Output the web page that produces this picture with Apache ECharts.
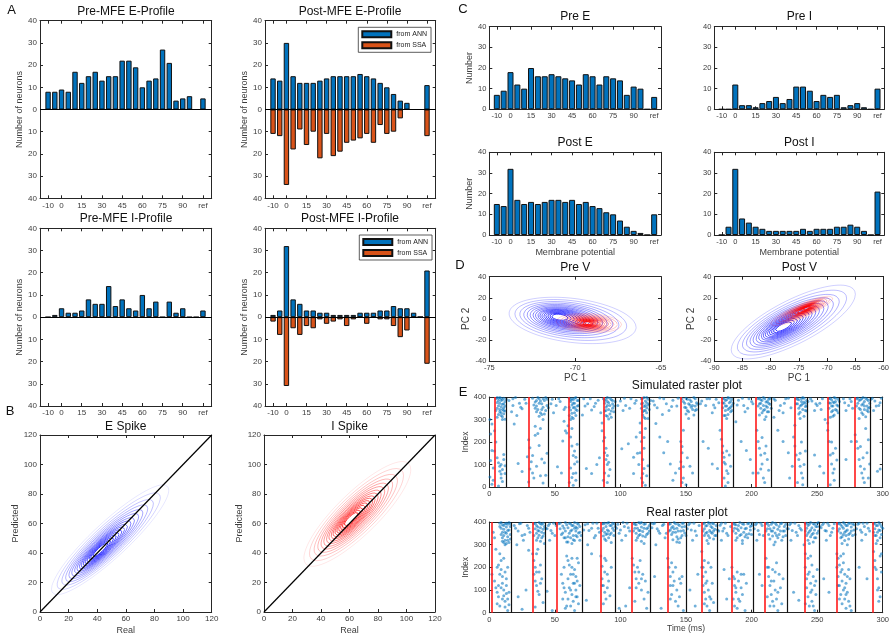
<!DOCTYPE html>
<html><head><meta charset="utf-8">
<script src="https://cdn.jsdelivr.net/npm/echarts@6/dist/echarts.min.js"></script>
<style>html,body{margin:0;padding:0;background:#fff}#c{width:892px;height:636px}</style>
</head><body><div id="c"></div>
<script>
// ---------------- DATA ----------------
const binCenters = [-10,-5,0,5,10,15,20,25,30,35,40,45,50,55,60,65,70,75,80,85,90,95,100,105];
const binTickValues = [-10,0,15,30,45,60,75,90,105];
const binTickLabels = {'-10':'-10','0':'0','15':'15','30':'30','45':'45','60':'60','75':'75','90':'90','105':'ref'};

// Panel A
const preMfeE     = [8,8,9,8,17,12,15,17,13,15,15,22,22,19,10,13,14,27,21,4,5,6,0,5];
const postMfeE_ANN= [14,13,30,15,12,12,12,13,14,15,15,15,15,16,15,14,12,10,7,4,3,0,0,11];
const postMfeE_SSA= [11,12,34,18,9,16,10,22,11,21,19,15,14,13,11,15,7,11,10,4,0,0,0,12];
const preMfeI     = [0,1,4,2,2,3,8,6,6,14,5,8,4,3,10,4,7,0,7,2,4,0,0,3];
const postMfeI_ANN= [1,3,32,8,6,3,3,2,2,1,1,1,1,2,2,2,3,3,5,4,4,2,0,21];
const postMfeI_SSA= [2,8,31,5,8,4,5,1,3,2,1,4,1,0,3,0,1,1,4,9,6,0,0,21];

// Panel C
const preE  = [7,9,18,12,10,20,16,16,17,16,15,14,12,17,16,12,16,15,14,7,11,10,0,6];
const preI  = [0,0,12,2,2,1,3,4,6,3,5,11,11,9,4,7,6,7,1,2,3,1,0,10];
const postE = [15,14,32,17,15,16,15,16,17,17,16,17,15,16,14,13,11,10,7,4,2,1,0,10];
const postI = [0,4,32,8,6,4,3,2,2,2,2,2,3,2,3,3,3,4,4,5,4,2,0,21];

// Panel B diagonal (identity line end points)
const identityLine = [[0,0],[120,120]];

// Contour families: [centerX, centerY, halfWidthX, halfHeightY, slope, innerShiftX, innerShiftY]
const eSpikeContour = [49, 49, 41, 16, 0.82, -8, -8];
const iSpikeContour = [65.5, 66.5, 37.5, 19, 0.8, -5, -4];
const preVBlue  = [-70.15, -1.5, 3.7, 21, -1.78, -0.85, 3.5];
const preVRed   = [-69.2, -4, 1.9, 9, -0.8, -0.1, 0];
const postVBlue = [-76, -3, 11, 23, 2.4, -2, -5];
const postVRed  = [-74.5, 7.5, 5.5, 7, 2.2, 0.8, 2.5];
const contourLevels = [1,0.88,0.78,0.7,0.63,0.57,0.51,0.46,0.41,0.37,0.33,0.29,0.25,0.21,0.17,0.13];

// Panel E: event lines (ms)
const simRed   = [4.3,29.9,60.8,87.3,116,146.3,177.2,203.5,232.9,257.9,278.4];
const simBlack = [13.2,45.1,68.9,95.9,122.3,159.2,186,214.9,242.7,267,290.8];
const realRed   = [2,32.9,51.7,84.8,108.9,136.2,161.8,184.8,210.1,240.5,265,292.1];
const realBlack = [17,42.8,70.6,96.4,122.8,150.4,173.9,201.2,227,251.9,278.9];

const simRaster = [
[5,392],[6,376],[7,361],[8,398],[8,345],[9,330],[9,384],[10,368],[10,312],[11,352],[11,395],[12,338],[12,301],[7,322],[6,350],[9,357],[10,388],[11,326],[8,372],[12,380],[5,340],[7,395],[10,345],[11,370],
[6,310],[7,385],[8,335],[9,395],[10,300],[11,340],[12,360],[13,390],[6,398],[9,318],
[0.5,300],[1,236],[2,162],[1,118],[3,85],[0.5,45],[2,12],[6,130],[7,108],[8,92],[8,70],[9,58],[10,78],[9,40],[11,122],[10,25],[7,5],[5,200],[4,160],[12,95],
[2,280],[4,250],[3,30],[9,100],[11,145],[12,60],
[15,385],[18,362],[20,398],[23,372],[25,348],[27,390],[17,335],[21,318],[22,105],[25,69],[19,280],[18,392],[24,355],[28,372],
[33,395],[35,378],[36,360],[37,345],[38,392],[39,330],[40,370],[41,355],[42,385],[43,340],[44,362],[38,315],[41,300],[36,385],[43,398],[40,322],[35,350],
[34,365],[36,335],[37,398],[39,382],[40,345],[42,325],[44,390],[45,352],[38,372],[41,392],
[30,210],[31,175],[29,135],[32,112],[33,62],[30,22],[34,40],[36,92],[38,185],[40,125],[42,108],[43,52],[41,18],[37,238],[44,150],[35,270],[39,260],
[31,80],[33,140],[35,230],[39,50],
[48,390],[51,362],[54,380],[57,345],[49,330],[52,90],[55,62],[57,292],[58,250],[56,205],[47,370],[53,392],[58,355],
[61,395],[62,380],[62,342],[63,365],[63,310],[64,388],[64,352],[65,330],[65,372],[66,398],[66,318],[67,360],[67,340],[68,385],[62,300],[65,355],[63,392],
[61,355],[62,388],[63,328],[64,372],[65,395],[66,345],[67,385],[68,362],[61,318],[64,305],
[62,222],[63,182],[64,140],[65,102],[66,62],[63,42],[61,20],[64,8],[66,132],[67,112],[60,272],[59,240],[62,85],[65,160],
[63,260],[64,60],[66,30],[67,190],
[72,392],[75,370],[78,342],[80,358],[83,386],[74,82],[78,60],[82,100],[84,130],[71,320],[85,330],[73,360],[77,392],[81,372],
[87,392],[88,372],[88,338],[89,355],[89,318],[90,398],[90,380],[91,345],[92,362],[92,325],[93,388],[94,350],[94,370],[95,335],[91,302],[89,390],[93,310],
[88,385],[89,340],[90,362],[91,375],[92,395],[93,338],[94,385],[95,360],[96,380],[90,315],
[86,250],[87,205],[88,152],[89,122],[90,100],[88,62],[87,30],[90,20],[89,172],[91,110],[86,285],[92,78],
[88,220],[90,140],[91,50],
[100,382],[104,362],[108,392],[102,340],[111,372],[101,170],[106,192],[110,132],[112,222],[113,150],[114,100],[110,60],[115,285],[98,362],[103,395],[107,350],[112,385],
[116,392],[116,350],[117,372],[117,320],[118,398],[118,340],[119,362],[119,382],[120,330],[120,352],[121,390],[121,305],[122,370],[118,310],[120,375],
[116,370],[117,395],[118,358],[119,340],[120,398],[121,365],[122,345],[123,385],[117,335],[119,305],
[115,242],[116,202],[117,122],[118,82],[116,40],[117,20],[119,8],[115,152],[118,172],[120,50],[121,95],[119,260],
[117,60],[118,220],
[125,382],[130,396],[135,370],[140,386],[128,352],[137,340],[132,322],[143,360],[127,282],[130,222],[133,152],[138,102],[142,62],[136,202],[140,30],[126,365],[133,392],[139,358],[144,395],
[147,392],[149,372],[150,352],[151,390],[152,335],[153,365],[154,380],[155,345],[156,398],[156,320],[157,360],[158,375],[152,305],[154,355],[150,325],[157,340],
[148,380],[149,355],[150,395],[151,340],[152,370],[153,388],[155,362],[157,392],[158,345],[159,368],
[146,202],[147,152],[146,112],[145,82],[148,40],[147,20],[150,10],[153,92],[155,62],[148,252],[151,130],
[147,180],[148,90],
[162,382],[165,362],[168,392],[172,352],[170,330],[175,375],[163,202],[167,172],[170,102],[174,82],[161,370],[166,392],[171,365],[173,390],
[178,395],[178,352],[179,372],[180,340],[180,385],[181,360],[182,322],[182,398],[183,350],[183,375],[184,335],[185,362],[185,390],[181,305],[179,318],[184,380],
[178,375],[179,392],[180,360],[181,388],[182,345],[183,395],[184,355],[185,340],[186,372],[180,318],
[176,252],[177,212],[178,152],[179,132],[180,102],[181,72],[179,40],[182,20],[183,142],[184,92],[178,182],[180,5],
[179,110],[181,160],[182,60],
[190,386],[194,362],[198,392],[195,335],[201,370],[192,202],[196,162],[199,122],[201,62],[188,290],[189,365],[193,395],[197,350],[200,380],
[205,392],[206,370],[207,350],[207,388],[208,330],[209,362],[209,398],[210,345],[211,378],[211,312],[212,355],[213,390],[213,335],[214,368],[206,320],[210,300],[212,380],
[205,360],[206,395],[207,372],[208,385],[209,340],[210,392],[211,360],[212,335],[213,372],[214,395],[215,350],
[204,252],[205,202],[206,172],[207,142],[208,102],[205,62],[209,40],[210,20],[211,182],[212,122],[213,75],
[207,80],[208,220],[210,150],
[218,386],[222,362],[226,392],[230,352],[224,330],[220,252],[224,202],[228,152],[231,92],[229,40],[217,310],[217,392],[221,340],[225,372],[228,395],
[234,395],[235,370],[236,350],[236,388],[237,332],[238,365],[238,392],[239,345],[240,378],[240,315],[241,358],[242,385],[242,338],[237,305],[239,398],[241,372],
[234,370],[235,390],[236,325],[237,360],[238,380],[239,370],[240,395],[241,340],[242,360],[243,380],
[232,222],[233,182],[234,142],[236,122],[237,92],[238,62],[239,40],[235,20],[240,100],[241,160],[233,275],
[237,150],[238,200],[239,10],
[246,382],[250,362],[254,392],[248,340],[252,372],[248,142],[252,92],[255,62],[256,300],[245,392],[249,370],[253,345],
[259,392],[259,350],[260,372],[261,335],[261,388],[262,360],[263,398],[263,320],[264,345],[264,380],[265,365],[266,390],[266,330],[260,310],[262,378],
[259,375],[260,395],[261,360],[262,340],[263,375],[264,395],[265,340],[266,360],[267,380],[262,315],
[258,252],[259,202],[260,142],[261,102],[262,62],[263,30],[260,10],[264,172],[265,120],[258,285],
[261,200],[262,150],[263,80],
[270,392],[274,362],[272,340],[276,380],[272,122],[276,202],[271,375],[275,392],[277,350],
[280,392],[281,372],[282,350],[283,388],[284,330],[284,365],[285,398],[286,345],[286,380],[287,312],[288,360],[288,390],[289,335],[290,372],[282,305],[285,322],[289,350],
[280,360],[281,395],[282,385],[283,345],[284,392],[285,370],[286,360],[287,395],[288,340],[289,385],[290,355],[291,390],
[279,232],[280,202],[281,172],[282,122],[283,92],[284,62],[285,40],[286,20],[288,152],[290,102],[287,260],[289,210],
[283,180],[285,130],[286,80],[289,40],
[294,382],[297,362],[296,70],[298,80],[293,340],[299,395],[292,395],[295,360],[298,375]
];

const realRaster = [
[8,395],[9,372],[10,355],[10,388],[11,340],[11,368],[12,320],[12,392],[13,350],[13,378],[14,335],[14,362],[15,398],[15,310],[16,345],[16,380],[12,300],[10,330],[14,390],[9,345],
[8,380],[9,398],[10,315],[11,385],[12,355],[13,395],[14,320],[15,365],[16,392],[13,305],[11,310],[16,325],
[3,355],[4,330],[2,170],[4,140],[5,110],[6,90],[7,210],[8,260],[9,230],[9,190],[10,160],[10,130],[11,100],[11,75],[12,50],[12,25],[13,120],[13,85],[14,60],[14,10],[15,35],[8,170],[7,120],[11,240],[6,40],
[5,280],[6,200],[7,70],[8,30],[9,110],[10,60],[12,180],[13,150],[14,200],[15,90],
[19,385],[22,360],[24,395],[27,345],[30,372],[21,300],[26,320],[28,100],[22,70],[25,15],[30,275],[20,372],[23,392],[25,340],[29,385],[31,355],
[34,392],[35,370],[36,350],[36,385],[37,330],[37,362],[38,398],[38,342],[39,375],[39,315],[40,355],[40,390],[41,338],[41,368],[42,380],[42,305],
[34,340],[35,395],[36,320],[37,378],[38,360],[39,392],[40,330],[41,395],[42,350],[43,372],
[33,260],[34,230],[35,200],[34,170],[35,140],[36,120],[37,95],[36,260],[38,180],[39,210],[38,80],[40,150],[41,45],[35,25],
[36,180],[37,280],[39,130],
[45,385],[47,362],[49,395],[46,320],[50,340],[44,95],[48,10],[44,370],[46,392],[48,350],[51,385],
[53,392],[54,370],[55,345],[56,382],[57,330],[58,398],[58,360],[59,312],[60,375],[61,350],[62,392],[62,330],[63,365],[63,305],[64,385],[64,340],[65,398],[65,318],[66,360],[66,378],[67,335],[68,390],[69,355],[69,320],[60,335],[67,372],
[54,395],[56,352],[57,372],[59,388],[61,395],[62,360],[63,385],[64,322],[65,372],[66,340],[67,395],[68,352],[69,380],[70,340],[60,312],[58,330],
[55,170],[56,130],[57,200],[58,90],[59,250],[60,150],[60,60],[61,210],[61,110],[62,170],[62,30],[63,80],[63,240],[64,130],[64,50],[65,190],[65,10],[66,100],[66,160],[67,70],[67,140],[68,220],[68,40],[69,120],[58,20],
[56,60],[57,110],[59,30],[60,230],[62,100],[63,200],[64,170],[65,130],[66,70],[67,240],
[73,388],[76,362],[79,395],[81,340],[83,372],[75,300],[78,260],[80,330],[74,55],[72,365],[75,392],[78,372],[82,395],[84,355],
[86,392],[87,372],[87,338],[88,355],[88,395],[89,318],[89,380],[90,348],[90,365],[91,398],[91,330],[92,385],[93,352],[93,310],[94,372],[95,340],[95,392],
[86,362],[87,392],[88,325],[89,345],[90,395],[91,360],[92,345],[93,385],[94,395],[95,362],[96,380],
[85,250],[86,205],[86,150],[87,120],[88,90],[88,180],[89,60],[89,230],[90,110],[91,140],[92,75],[93,200],[87,40],
[86,120],[88,240],[90,170],
[98,390],[100,365],[102,398],[104,340],[106,375],[101,320],[99,20],[104,30],[107,110],[97,372],[99,350],[103,380],[105,395],[107,360],
[110,395],[111,372],[112,350],[112,388],[113,330],[114,362],[114,398],[115,345],[116,378],[116,315],[117,358],[118,390],[119,335],[120,370],[121,350],[122,385],[118,305],[115,395],
[110,360],[111,390],[112,320],[113,372],[114,340],[115,362],[116,398],[117,338],[118,372],[119,392],[120,345],[121,375],[122,360],[123,395],
[109,240],[110,210],[111,180],[112,150],[113,200],[114,130],[115,230],[116,100],[117,170],[118,60],[119,140],[120,20],[121,90],[111,50],
[112,110],[114,180],[116,150],
[125,392],[128,370],[130,350],[132,385],[134,330],[127,300],[131,20],[126,160],[124,375],[126,395],[129,360],[133,390],[135,350],
[137,390],[138,365],[139,345],[140,380],[140,322],[141,398],[142,355],[143,372],[143,335],[144,390],[145,310],[146,360],[147,378],[147,340],[148,395],[149,352],[144,325],[141,370],
[137,360],[138,392],[139,375],[140,355],[142,392],[143,312],[144,360],[145,385],[146,330],[147,395],[148,362],[149,380],[150,340],
[136,240],[137,200],[138,160],[138,120],[139,80],[140,180],[141,140],[142,50],[143,100],[144,30],[145,70],[146,130],[147,160],[148,10],[139,220],
[138,60],[140,120],[142,200],[145,150],
[152,388],[154,365],[156,395],[158,340],[155,320],[153,100],[157,30],[159,170],[151,370],[153,395],[157,360],[160,385],
[163,392],[164,370],[164,340],[165,382],[166,355],[166,318],[167,398],[168,362],[168,330],[169,380],[170,350],[171,392],[171,325],[172,368],[173,340],[167,305],[170,375],
[163,360],[164,395],[165,350],[166,385],[167,340],[168,392],[169,355],[170,395],[171,360],[172,340],[173,385],[174,365],
[162,270],[162,200],[163,160],[163,120],[164,90],[164,230],[165,60],[165,180],[166,140],[166,30],[167,100],[168,70],[168,10],[169,200],[170,130],[171,45],
[163,200],[164,40],[165,130],[167,220],[169,60],
[176,386],[178,360],[180,395],[182,340],[177,320],[179,190],[181,60],[183,150],[175,360],[177,395],[179,372],[181,350],[184,380],
[186,395],[187,372],[188,350],[188,388],[189,330],[190,362],[191,398],[191,340],[192,375],[193,318],[194,390],[194,355],[195,335],[196,372],[197,392],[198,348],[199,365],[200,385],[193,305],[189,370],
[186,360],[187,390],[188,320],[190,385],[192,345],[193,392],[195,370],[196,345],[197,330],[198,395],[199,380],[200,345],[201,395],
[185,200],[186,160],[186,60],[187,120],[187,30],[188,90],[189,180],[189,20],[190,140],[191,50],[192,110],[193,80],[194,170],[195,10],[196,130],
[187,150],[188,110],[190,60],[192,170],
[203,388],[205,362],[207,395],[209,340],[204,320],[206,170],[208,120],[202,370],[204,395],[206,345],[208,385],
[211,392],[212,370],[213,345],[213,385],[214,325],[215,360],[216,398],[216,338],[217,375],[218,312],[218,352],[219,388],[220,330],[220,368],[221,345],[222,392],[223,320],[224,360],[225,380],[226,340],[217,300],
[211,360],[212,395],[214,370],[215,390],[216,360],[218,395],[219,340],[221,380],[222,360],[223,395],[224,335],[225,360],[226,390],[227,370],
[211,240],[212,200],[213,160],[214,120],[214,30],[215,80],[216,190],[216,50],[217,140],[218,100],[219,60],[219,220],[220,10],[221,170],[222,110],[223,40],[224,150],[212,70],
[213,200],[215,140],[217,30],[218,180],[220,90],
[229,388],[231,362],[233,395],[235,340],[237,372],[230,320],[232,90],[236,55],[228,370],[230,395],[234,355],[236,385],[238,365],
[241,395],[242,372],[242,340],[243,385],[243,320],[244,358],[245,398],[245,335],[246,375],[247,350],[247,312],[248,390],[248,365],[249,330],[250,380],[250,350],[251,398],[244,305],
[241,360],[242,395],[243,350],[244,390],[245,365],[246,345],[247,392],[248,330],[249,380],[250,395],[251,360],[252,380],
[240,300],[241,260],[241,200],[242,150],[242,110],[243,240],[243,70],[244,180],[244,30],[245,130],[245,90],[246,210],[246,50],[247,160],[248,120],[248,10],[249,80],[250,190],[241,40],
[243,170],[245,250],[246,100],[247,30],[249,140],
[254,388],[256,362],[258,395],[260,340],[262,372],[257,320],[255,150],[259,90],[253,375],[255,395],[257,360],[259,385],[261,355],[263,392],
[266,392],[267,370],[268,352],[268,388],[269,335],[270,372],[270,398],[271,318],[271,355],[272,385],[272,340],[273,365],[274,395],[274,325],[275,350],[276,378],[277,340],[278,388],[269,305],[273,300],
[266,360],[267,395],[268,330],[269,380],[270,345],[271,392],[272,360],[273,385],[274,345],[275,395],[276,360],[277,392],[278,365],[279,345],
[265,260],[265,200],[266,240],[266,160],[267,210],[267,120],[268,180],[268,80],[269,140],[269,40],[270,220],[270,100],[271,60],[271,170],[272,20],[272,130],[273,90],[274,190],[274,50],[275,150],[276,10],[270,260],
[266,120],[267,60],[268,250],[269,190],[271,110],[272,80],[273,160],[275,30],
[281,390],[283,365],[285,395],[287,345],[289,372],[284,320],[282,200],[288,150],[280,370],[282,395],[284,355],[286,380],[288,395],[290,360],
[293,392],[294,370],[294,340],[295,385],[296,355],[296,318],[297,398],[298,362],[298,330],[299,380],[295,305],
[293,355],[294,395],[295,340],[296,385],[297,365],[298,390],[299,345],[300,372],
[293,270],[294,230],[295,190],[296,150],[297,110],[298,70],[299,260],[297,50],[299,180],
[294,200],[296,100],[298,250]
];

// ---------------- BUILD ----------------
const FONT = '"Liberation Sans", Arial, Helvetica, sans-serif';
const AX = '#262626', LBL = '#3c3c3c';
const BLUE = '#0072BD', ORANGE = '#D95319';
const grids = [], xAxes = [], yAxes = [], series = [], titles = [];

function addPanel(box, xc, yc) {
  const gi = grids.length;
  grids.push({left: box[0], top: box[1], width: box[2]-box[0], height: box[3]-box[1], show: false});
  function ax(c, pos, labels) {
    const o = {
      type: 'value', gridIndex: gi, position: pos, min: c.min, max: c.max, silent: true,
      splitLine: {show: false},
      axisLine: {show: true, onZero: false, lineStyle: {color: AX, width: 1}},
      axisTick: {show: true, inside: true, length: 3, lineStyle: {color: AX, width: 1}},
      axisLabel: {show: labels, fontSize: c.fs || 8, color: LBL, margin: 3, fontFamily: FONT, hideOverlap: false, showMinLabel: true, showMaxLabel: true}
    };
    if (c.interval !== undefined) o.interval = c.interval;
    if (c.ticks) { o.axisTick.customValues = c.ticks; o.axisLabel.customValues = c.ticks; }
    if (c.fmt) o.axisLabel.formatter = c.fmt;
    if (labels && c.name) {
      o.name = c.name; o.nameLocation = 'middle'; o.nameGap = c.gap;
      o.nameTextStyle = {fontSize: c.nfs || 9, color: LBL, fontFamily: FONT};
    }
    return o;
  }
  const xi = xAxes.length;
  xAxes.push(ax(xc, 'bottom', true), ax(xc, 'top', false));
  const yi = yAxes.length;
  yAxes.push(ax(yc, 'left', true), ax(yc, 'right', false));
  return {xi, yi};
}

function addTitle(text, cx, cy, fs) {
  fs = fs || 12;
  titles.push({text, left: cx, top: cy - fs/2 - 1, textAlign: 'center', padding: 0,
    textStyle: {fontSize: fs, fontWeight: 'normal', color: '#111', fontFamily: FONT}});
}

function barSeries(p, vals, sign, color, name, bw, zeroLine) {
  const s = {
    type: 'bar', name: name, xAxisIndex: p.xi, yAxisIndex: p.yi,
    data: binCenters.map((c, i) => [c, sign * vals[i]]),
    barWidth: bw, barGap: '-100%', silent: true,
    itemStyle: {color: color, borderColor: '#111', borderWidth: 1}
  };
  if (zeroLine) {
    s.markLine = {silent: true, symbol: ['none','none'], label: {show: false},
      lineStyle: {color: '#000', width: 1.2, type: 'solid'}, data: [{yAxis: 0}]};
  }
  series.push(s);
}

const absFmt = v => String(Math.abs(v));
const binFmt = v => binTickLabels[String(v)] !== undefined ? binTickLabels[String(v)] : '';

// ---- Panel A ----
function aPanel(box) {
  return addPanel(box,
    {min: -16, max: 111.5, ticks: binTickValues, fmt: binFmt},
    {min: -40, max: 40, interval: 10, fmt: absFmt, name: 'Number of neurons', gap: 13});
}
const A1 = aPanel([40, 20.7, 211.7, 198.3]);
const A2 = aPanel([265, 20.7, 435.7, 198.3]);
const A3 = aPanel([40, 228.3, 211.7, 406]);
const A4 = aPanel([265, 228.3, 435.7, 406]);
barSeries(A1, preMfeE, 1, BLUE, 'Pre E', 5.4, true);
barSeries(A2, postMfeE_ANN, 1, BLUE, 'from ANN', 5.4, true);
barSeries(A2, postMfeE_SSA, -1, ORANGE, 'from SSA', 5.4, false);
barSeries(A3, preMfeI, 1, BLUE, 'Pre I', 5.4, true);
barSeries(A4, postMfeI_ANN, 1, BLUE, 'from ANN', 5.4, true);
barSeries(A4, postMfeI_SSA, -1, ORANGE, 'from SSA', 5.4, false);
addTitle('A', 11.7, 11.7, 13);
addTitle('Pre-MFE E-Profile', 126, 12.3);
addTitle('Post-MFE E-Profile', 350, 12.3);
addTitle('Pre-MFE I-Profile', 126, 220);
addTitle('Post-MFE I-Profile', 350, 220);

// ---- Panel B ----
function contour(p, e, rgb, width, amin) {
  const [cx, cy, hx, hy, slope, sx, sy] = e;
  const n = contourLevels.length;
  contourLevels.forEach((s, k) => {
    const ccx = cx + sx * (1 - s), ccy = cy + sy * (1 - s);
    const pts = [];
    for (let j = 0; j <= 90; j++) {
      const t = j / 90 * 2 * Math.PI;
      const dx = s * hx * Math.cos(t);
      pts.push([ccx + dx, ccy + s * hy * Math.sin(t) + slope * dx]);
    }
    const a = amin + (1 - amin) * Math.pow(k / (n - 1), 0.8);
    series.push({type: 'line', xAxisIndex: p.xi, yAxisIndex: p.yi, data: pts, showSymbol: false, symbol: 'none',
      silent: true, smooth: false, lineStyle: {color: 'rgba(' + rgb + ',' + a.toFixed(2) + ')', width: width || 0.8}});
  });
}
const bX = {min: 0, max: 120, interval: 20, name: 'Real', gap: 14};
const bY = {min: 0, max: 120, interval: 20, name: 'Predicted', gap: 18};
const B1 = addPanel([40, 435, 211.7, 612.3], bX, bY);
const B2 = addPanel([264, 435, 435, 612.3], bX, Object.assign({}, bY, {gap: 16}));
contour(B1, eSpikeContour, '0,0,255', 0.8, 0.12);
contour(B2, iSpikeContour, '255,0,0', 0.8, 0.12);
[B1, B2].forEach(p => series.push({type: 'line', xAxisIndex: p.xi, yAxisIndex: p.yi, data: identityLine,
  showSymbol: false, symbol: 'none', silent: true, lineStyle: {color: '#000', width: 1.2}}));
addTitle('B', 10, 412.7, 13);
addTitle('E Spike', 125.8, 427.3);
addTitle('I Spike', 349.5, 427.3);

// ---- Panel C ----
function cPanel(box, yname, xname) {
  return addPanel(box,
    {min: -15.5, max: 110, ticks: binTickValues, fmt: binFmt, fs: 7.5, name: xname, gap: 13.5},
    {min: 0, max: 40, interval: 10, fs: 7.5, name: yname, gap: 12});
}
const C1 = cPanel([489.3, 26.7, 661, 109.3], 'Number');
const C2 = cPanel([714.3, 26.7, 884.3, 109.3]);
const C3 = cPanel([489.3, 152.3, 661, 235], 'Number', 'Membrane potential');
const C4 = cPanel([714.3, 152.3, 884.3, 235], undefined, 'Membrane potential');
barSeries(C1, preE, 1, BLUE, 'Pre E', 6.0, false);
barSeries(C2, preI, 1, BLUE, 'Pre I', 6.0, false);
barSeries(C3, postE, 1, BLUE, 'Post E', 6.0, false);
barSeries(C4, postI, 1, BLUE, 'Post I', 6.0, false);
addTitle('C', 463, 10, 13);
addTitle('Pre E', 575.2, 17.3);
addTitle('Pre I', 799.3, 17.3);
addTitle('Post E', 575.2, 144);
addTitle('Post I', 799.3, 144);

// ---- Panel D ----
const D1 = addPanel([489.3, 276.7, 661, 361],
  {min: -75, max: -65, interval: 5, fs: 7.5, name: 'PC 1', gap: 12.5, nfs: 10},
  {min: -40, max: 40, interval: 20, fs: 7.5, name: 'PC 2', gap: 17.5, nfs: 10});
const D2 = addPanel([714.3, 276.7, 884.3, 361],
  {min: -90, max: -60, interval: 5, fs: 7.5, name: 'PC 1', gap: 12.5, nfs: 10},
  {min: -40, max: 40, interval: 20, fs: 7.5, name: 'PC 2', gap: 16.5, nfs: 10});
contour(D1, preVBlue, '0,0,255', 0.75, 0.25);
contour(D1, preVRed, '255,0,0', 0.75, 0.22);
contour(D2, postVBlue, '0,0,255', 0.75, 0.25);
contour(D2, postVRed, '255,0,0', 0.75, 0.22);
addTitle('D', 460, 266.7, 13);
addTitle('Pre V', 575.2, 268.3);
addTitle('Post V', 799.3, 268.3);

// ---- Panel E ----
function rasterPanel(box, pts, reds, blacks, xname) {
  const p = addPanel(box,
    {min: 0, max: 300, interval: 50, fs: 7.5, name: xname, gap: 11, nfs: 8.5},
    {min: 0, max: 400, interval: 100, fs: 7.5, name: 'Index', gap: 15, nfs: 8.5});
  series.push({type: 'scatter', xAxisIndex: p.xi, yAxisIndex: p.yi, data: pts, symbol: 'circle', symbolSize: 3,
    silent: true, itemStyle: {color: 'rgba(0,114,189,0.7)'}});
  series.push({type: 'scatter', xAxisIndex: p.xi, yAxisIndex: p.yi, data: [], silent: true,
    markLine: {silent: true, symbol: ['none','none'], label: {show: false},
      lineStyle: {color: '#111', width: 1.2, type: 'solid'}, data: blacks.map(t => ({xAxis: t}))}});
  series.push({type: 'scatter', xAxisIndex: p.xi, yAxisIndex: p.yi, data: [], silent: true,
    markLine: {silent: true, symbol: ['none','none'], label: {show: false},
      lineStyle: {color: '#ff1a1a', width: 1.6, type: 'solid'}, data: reds.map(t => ({xAxis: t}))}});
  return p;
}
rasterPanel([489.3, 397, 884.5, 487], simRaster, simRed, simBlack);
rasterPanel([489.3, 522, 884.5, 612.7], realRaster, realRed, realBlack, 'Time (ms)');
addTitle('E', 463, 393, 13);
addTitle('Simulated raster plot', 686.9, 386.7);
addTitle('Real raster plot', 686.9, 513.5);

// ---- Legends ----
const legendBase = {
  orient: 'vertical', data: ['from ANN', 'from SSA'], icon: 'rect', itemWidth: 29, itemHeight: 6, itemGap: 3,
  padding: [3, 4, 3, 3], borderColor: '#333', borderWidth: 0.8, backgroundColor: '#fff',
  textStyle: {fontSize: 7, color: '#222', fontFamily: FONT}, selectedMode: false
};
const legends = [
  Object.assign({}, legendBase, {left: 358.3, top: 27.3}),
  Object.assign({}, legendBase, {left: 359.3, top: 235})
];

const chart = echarts.init(document.getElementById('c'), null, {renderer: 'canvas'});
chart.setOption({
  animation: false,
  backgroundColor: '#fff',
  title: titles,
  legend: legends,
  grid: grids,
  xAxis: xAxes,
  yAxis: yAxes,
  series: series
});
</script></body></html>
